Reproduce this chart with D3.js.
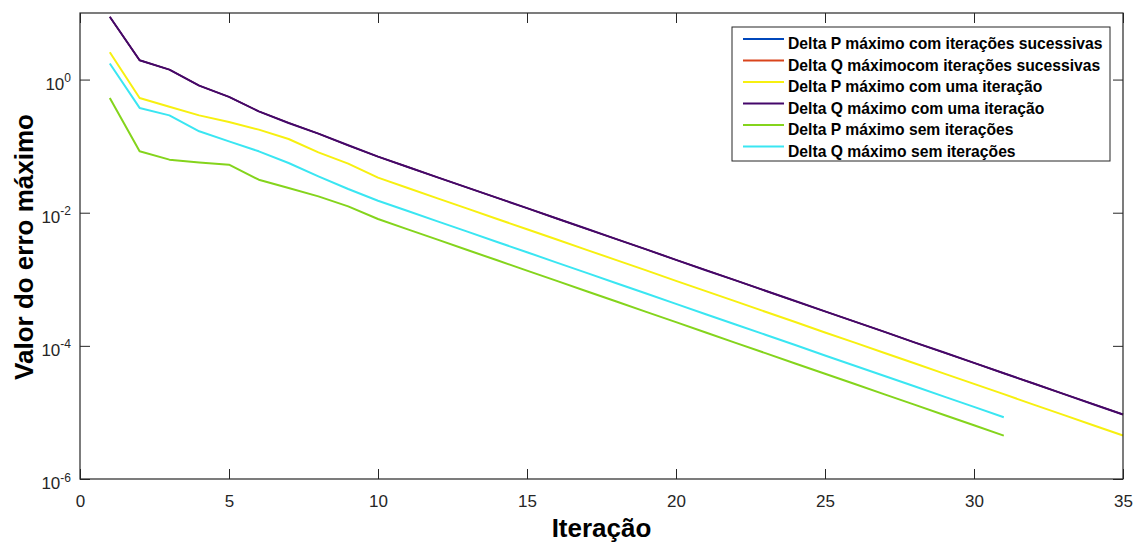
<!DOCTYPE html>
<html>
<head>
<meta charset="utf-8">
<script src="https://cdn.jsdelivr.net/npm/d3@7"></script>
<style>
    body { margin: 0; background: #fff; }
    #chart { width: 1139px; height: 542px; }
    text { font-family: "Liberation Sans", Arial, sans-serif; fill: #262626; }
    .serie { fill: none; stroke-width: 2; stroke-linejoin: round; }
</style>
</head>
<body>
<div id="chart"><svg></svg></div>
<script>

// iterations on the x axis
var iteracoes35 = [1, 2, 3, 4, 5, 6, 7, 8, 9, 10, 11, 12, 13, 14, 15, 16, 17, 18,
    19, 20, 21, 22, 23, 24, 25, 26, 27, 28, 29, 30, 31, 32, 33, 34, 35];
var iteracoes31 = [1, 2, 3, 4, 5, 6, 7, 8, 9, 10, 11, 12, 13, 14, 15, 16, 17, 18,
    19, 20, 21, 22, 23, 24, 25, 26, 27, 28, 29, 30, 31];

// values
var deltaQUma = [8.77, 1.95, 1.41, 0.81, 0.55, 0.333, 0.223, 0.154, 0.103, 0.0695,
    0.0486, 0.0340, 0.0238, 0.0167, 0.0117, 0.00818, 0.00573, 0.00401, 0.00281, 0.00196,
    0.00137, 9.62e-4, 6.73e-4, 4.71e-4, 3.30e-4, 2.31e-4, 1.62e-4, 1.13e-4, 7.93e-5, 5.55e-5,
    3.88e-5, 2.72e-5, 1.90e-5, 1.33e-5, 9.31e-6];
var deltaPUma = [2.57, 0.53, 0.39, 0.29, 0.230, 0.177, 0.128, 0.0807, 0.0546, 0.0336,
    0.0235, 0.0164, 0.0115, 0.00805, 0.00565, 0.00395, 0.00277, 0.00194, 0.00136, 9.48e-4,
    6.64e-4, 4.65e-4, 3.25e-4, 2.28e-4, 1.59e-4, 1.12e-4, 7.82e-5, 5.47e-5, 3.83e-5, 2.68e-5,
    1.88e-5, 1.31e-5, 9.19e-6, 6.43e-6, 4.50e-6];
var deltaQSem = [1.74, 0.375, 0.29, 0.167, 0.118, 0.0836, 0.0558, 0.0352, 0.0227, 0.0151,
    0.0106, 0.00741, 0.00519, 0.00363, 0.00255, 0.00178, 0.00125, 8.73e-4, 6.11e-4, 4.28e-4,
    2.99e-4, 2.09e-4, 1.47e-4, 1.03e-4, 7.18e-5, 5.03e-5, 3.52e-5, 2.47e-5, 1.73e-5, 1.21e-5,
    8.45e-6];
var deltaPSem = [0.53, 0.0836, 0.0627, 0.057, 0.0527, 0.0313, 0.0235, 0.0176, 0.01245, 0.00804,
    0.00562, 0.00394, 0.00275, 0.00193, 0.00135, 9.46e-4, 6.62e-4, 4.63e-4, 3.24e-4, 2.27e-4,
    1.59e-4, 1.11e-4, 7.78e-5, 5.44e-5, 3.81e-5, 2.67e-5, 1.87e-5, 1.31e-5, 9.16e-6, 6.41e-6,
    4.49e-6];
// the "sucessivas" runs are not visible at all: hidden under the dark purple line
var deltaPSucessivas = deltaQUma;
var deltaQSucessivas = deltaQUma;

var legendas = [
    "Delta P máximo com iterações sucessivas",
    "Delta Q máximocom iterações sucessivas",
    "Delta P máximo com uma iteração",
    "Delta Q máximo com uma iteração",
    "Delta P máximo sem iterações",
    "Delta Q máximo sem iterações"
];
var cores = ["#0047bb", "#d9441c", "#f7f010", "#44076a", "#84d41c", "#3ae6f2"];

var xTicks = [0, 5, 10, 15, 20, 25, 30, 35];
var yTicks = [1e-6, 1e-4, 1e-2, 1];
var yExpoentes = ["-6", "-4", "-2", "0"];

var series = [
    { x: iteracoes35, y: deltaPSucessivas },
    { x: iteracoes35, y: deltaQSucessivas },
    { x: iteracoes35, y: deltaPUma },
    { x: iteracoes35, y: deltaQUma },
    { x: iteracoes31, y: deltaPSem },
    { x: iteracoes31, y: deltaQSem }
];

var svg = d3.select("#chart svg")
    .attr("width", 1139)
    .attr("height", 542);

var margin = { top: 13, right: 16, bottom: 63, left: 80 },
    width = 1139 - margin.left - margin.right,
    height = 542 - margin.top - margin.bottom;

var x = d3.scaleLinear().domain([0, 35]).range([0, width]);
var y = d3.scaleLog().domain([1e-6, 10]).range([height, 0]);

var g = svg.append("g")
    .attr("transform", "translate(" + margin.left + "," + margin.top + ")");

var line = d3.line()
    .x(function(d) { return x(d[0]); })
    .y(function(d) { return y(d[1]); });

g.selectAll(".serie")
    .data(series)
    .enter()
    .append("path")
    .attr("class", "serie")
    .attr("d", function(s) {
        return line(s.x.map(function(it, i) { return [it, s.y[i]]; }));
    })
    .style("stroke", function(s, i) { return cores[i]; })
    .style("stroke-width", function(s, i) { return i < 2 ? 1.4 : 2; });

// MATLAB style box with inward ticks on all four sides
var eixo = "#262626";

g.append("g")
    .attr("transform", "translate(0," + height + ")")
    .call(d3.axisBottom(x).tickValues(xTicks).tickSizeInner(-10).tickSizeOuter(0).tickPadding(16))
    .call(function(a) {
        a.select(".domain").remove();
        a.selectAll("line").attr("stroke", eixo);
        a.selectAll("text").attr("font-size", 17).attr("font-family", null).attr("fill", eixo);
    });

g.append("g")
    .call(d3.axisTop(x).tickValues(xTicks).tickSizeInner(-10).tickSizeOuter(0).tickFormat(""))
    .call(function(a) {
        a.select(".domain").remove();
        a.selectAll("line").attr("stroke", eixo);
    });

g.append("g")
    .call(d3.axisLeft(y).tickValues(yTicks).tickSizeInner(-10).tickSizeOuter(0).tickFormat(""))
    .call(function(a) {
        a.select(".domain").remove();
        a.selectAll("line").attr("stroke", eixo);
    });

g.append("g")
    .attr("transform", "translate(" + width + ",0)")
    .call(d3.axisRight(y).tickValues(yTicks).tickSizeInner(-10).tickSizeOuter(0).tickFormat(""))
    .call(function(a) {
        a.select(".domain").remove();
        a.selectAll("line").attr("stroke", eixo);
    });

// y tick labels as 10 with superscript exponent
var yRotulos = g.selectAll(".yrotulo")
    .data(yTicks)
    .enter()
    .append("text")
    .attr("class", "yrotulo")
    .attr("x", -9)
    .attr("y", function(d) { return y(d) + 10; })
    .attr("text-anchor", "end")
    .attr("font-size", 17);

yRotulos.append("tspan").text("10");
yRotulos.append("tspan")
    .attr("dy", -7.5)
    .attr("font-size", 12)
    .text(function(d, i) { return yExpoentes[i]; });

g.append("rect")
    .attr("width", width)
    .attr("height", height)
    .attr("fill", "none")
    .attr("stroke", eixo)
    .attr("stroke-width", 1.2);

// axis titles
svg.append("text")
    .attr("x", margin.left + width / 2)
    .attr("y", 537)
    .attr("text-anchor", "middle")
    .attr("font-size", 26)
    .attr("font-weight", "bold")
    .style("fill", "#000")
    .text("Iteração");

svg.append("text")
    .attr("transform", "translate(33,247) rotate(-90)")
    .attr("text-anchor", "middle")
    .attr("font-size", 26)
    .attr("font-weight", "bold")
    .style("fill", "#000")
    .text("Valor do erro máximo");

// legend
var leg = svg.append("g").attr("transform", "translate(732,27)");

leg.append("rect")
    .attr("width", 378)
    .attr("height", 134)
    .attr("fill", "#fff")
    .attr("stroke", eixo)
    .attr("stroke-width", 1);

var itens = leg.selectAll(".item")
    .data(legendas)
    .enter()
    .append("g")
    .attr("class", "item")
    .attr("transform", function(d, i) { return "translate(0," + (12 + i * 21.5) + ")"; });

itens.append("line")
    .attr("x1", 11)
    .attr("x2", 52)
    .attr("stroke", function(d, i) { return cores[i]; })
    .attr("stroke-width", 2);

itens.append("text")
    .attr("x", 56)
    .attr("y", 10)
    .attr("font-size", 15.7)
    .attr("font-weight", "bold")
    .style("fill", "#000")
    .text(function(d) { return d; });

</script>
</body>
</html>
